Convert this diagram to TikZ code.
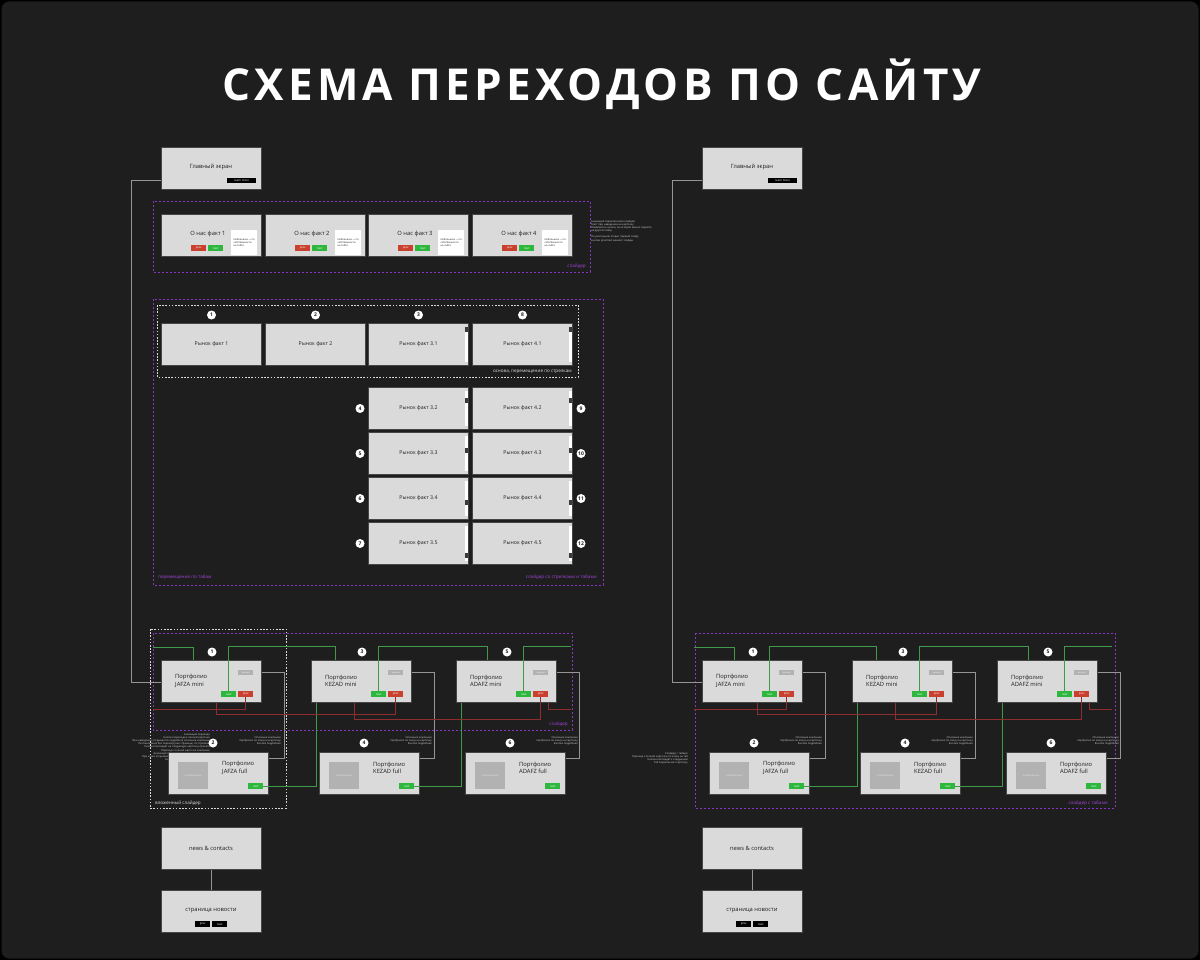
\documentclass[tikz,border=0pt]{standalone}
\usepackage{fontspec}
\setmainfont{Open Sans}
\newfontfamily\titlefont[LetterSpace=9.5]{Open Sans}
\usetikzlibrary{calc}
\definecolor{bg}{HTML}{1E1E1E}
\definecolor{cardfill}{HTML}{DADADA}
\definecolor{cardline}{HTML}{454545}
\definecolor{textdark}{HTML}{1E1E1E}
\definecolor{btngreen}{HTML}{2DB83D}
\definecolor{btnred}{HTML}{C9402F}
\definecolor{purp}{HTML}{8A36C0}
\definecolor{purptext}{HTML}{A545DC}
\definecolor{wirec}{HTML}{959595}
\definecolor{wiregreen}{HTML}{3F9A4A}
\definecolor{wirered}{HTML}{8E2E2E}
\definecolor{phgray}{HTML}{B2B2B2}
\definecolor{notegray}{HTML}{D2D2D2}
\definecolor{thumbc}{HTML}{3A3A3A}
\tikzset{
  card/.style={draw=cardline, fill=cardfill, line width=1pt, inner sep=0, minimum width=100pt, minimum height=42pt, anchor=north west},
  cardtitle/.style={font=\fontsize{5.8}{7.5}\selectfont, text=textdark, inner sep=0},
  btn/.style={inner sep=0, minimum width=15pt, minimum height=6pt, font=\fontsize{2.8}{3}\selectfont, text=white, anchor=north west},
  gbtn/.style={btn, fill=btngreen},
  rbtn/.style={btn, fill=btnred},
  kbtn/.style={btn, fill=black},
  num/.style={circle, fill=white, inner sep=0, minimum size=9pt, font=\fontsize{5}{5}\selectfont\bfseries, text=textdark},
  purpbox/.style={draw=purp, dash pattern=on 2pt off 2pt, line width=0.9pt},
  whitedash/.style={draw=white!85!black, dash pattern=on 1.6pt off 1.6pt, line width=1pt},
  purplabel/.style={text=purptext, font=\fontsize{4.6}{5}\selectfont, inner sep=0},
  whitelabel/.style={text=white!88!black, font=\fontsize{4.6}{5}\selectfont, inner sep=0},
  wire/.style={draw=wirec, line width=1pt},
  gwire/.style={draw=wiregreen, line width=0.8pt},
  rwire/.style={draw=wirered, line width=0.8pt},
  note/.style={text=notegray, font=\fontsize{2.6}{3.2}\selectfont, inner sep=0},
  descbox/.style={fill=white, inner sep=1.5pt, minimum width=26pt, minimum height=25pt, anchor=north west, text=textdark, font=\fontsize{2.5}{3.2}\selectfont, align=left},
  tag/.style={fill=phgray, inner sep=0, minimum width=15pt, minimum height=5pt, anchor=north west, font=\fontsize{2}{2}\selectfont, text=white},
  photo/.style={fill=phgray, inner sep=0, minimum width=30pt, minimum height=27pt, anchor=north west, font=\fontsize{2.5}{3}\selectfont, text=white!90!black},
}
\begin{document}
\begin{tikzpicture}[x=1pt,y=-1pt]
\useasboundingbox (0,0) rectangle (1200,960);
\fill[black] (0,0) rectangle (1200,960);
\fill[bg, rounded corners=8pt] (1.5,1.5) rectangle (1198.5,958.5);

% title
\node[font=\titlefont\bfseries\fontsize{44}{50}\selectfont, text=white, inner sep=0] (title) at (602,84) {СХЕМА ПЕРЕХОДОВ ПО САЙТУ};

% main screens and news
\foreach \s/\x in {L/161,R/702}{
  \node[card] (\s-main) at (\x,147) {};
  \node[cardtitle] (\s-maint) at ($(\s-main.north west)+(50,20)$) {Главный экран};
  \node[kbtn, minimum width=29pt, minimum height=5pt] (\s-learn) at ($(\s-main.north west)+(66,31)$) {learn more};
  \node[card] (\s-news) at (\x,827) {};
  \node[cardtitle] (\s-newst) at ($(\s-news.north west)+(50,21)$) {news \& contacts};
  \node[card] (\s-page) at (\x,890) {};
  \node[cardtitle] (\s-paget) at ($(\s-page.north west)+(50,21)$) {страница новости};
  \node[kbtn] (\s-pprev) at ($(\s-page.north west)+(34,31)$) {prev};
  \node[kbtn] (\s-pnext) at ($(\s-page.north west)+(51,31)$) {next};
  \draw[wire] (\s-news.south) -- (\s-page.north);
}

% ---- slider "О нас"
\draw[purpbox] (153,201) rectangle (590,272);
\node[purplabel, anchor=east] (lblslider1) at (586,266) {слайдер};
\foreach \i/\x in {1/161,2/265,3/368,4/472}{
  \node[card] (ab-\i) at (\x,214) {};
  \node[cardtitle] (ab-t\i) at ($(ab-\i.north west)+(47,20)$) {О нас факт \i};
  \node[rbtn] (ab-p\i) at ($(ab-\i.north west)+(30,31)$) {prev};
  \node[gbtn] (ab-n\i) at ($(ab-\i.north west)+(47,31)$) {next};
  \node[descbox] (ab-d\i) at ($(ab-\i.north west)+(70,16)$) {Небольшое — по\\собственности\\на сайте};
}
\node[note, anchor=north west, align=left] (sliderNote) at (591,220) {Анимация переключения слайдов\\Текст при наведении на карточку\\Появляется кнопка, по которой можно перейти\\на другой слайд\\[3pt]По умолчанию открыт первый слайд,\\кнопки prev/next меняют слайды};

% ---- market group
\draw[purpbox] (153,299) rectangle (603,585);
\draw[whitedash] (157,305) rectangle (578,377);
\node[whitelabel, anchor=east] (lblbase) at (572,372) {основа, перемещение по стрелкам};
\node[purplabel, anchor=west] (lbltabs) at (158,577) {перемещение по табам};
\node[purplabel, anchor=east] (lblarrows) at (597,577) {слайдер со стрелками и табами};

\foreach \i/\x/\n/\t in {1/161/1/1,2/265/2/2,3/368/3/3.1,4/472/8/4.1}{
  \node[card] (mk-\i) at (\x,323) {};
  \node[cardtitle, font=\fontsize{5.2}{6}\selectfont] (mk-t\i) at (mk-\i.center) {Рынок факт \t};
  \node[num] (mk-c\i) at ($(mk-\i.north)+(0,-8)$) {\n};
}
\foreach \k in {3,4}{
  \fill[white] ($(mk-\k.north east)+(-4,4)$) rectangle ($(mk-\k.south east)+(-1,-4)$);
  \fill[thumbc] ($(mk-\k.north east)+(-4,4)$) rectangle ++(3,5);
}
\foreach \r/\y/\off/\nl/\nr in {2/387/11/4/9,3/432/16/5/10,4/477/23/6/11,5/522/31/7/12}{
  \node[card] (mk-a\r) at (368,\y) {};
  \node[cardtitle, font=\fontsize{5.2}{6}\selectfont] (mk-at\r) at (mk-a\r.center) {Рынок факт 3.\r};
  \node[card] (mk-b\r) at (472,\y) {};
  \node[cardtitle, font=\fontsize{5.2}{6}\selectfont] (mk-bt\r) at (mk-b\r.center) {Рынок факт 4.\r};
  \node[num] (mk-na\r) at ($(mk-a\r.west)+(-8,0)$) {\nl};
  \node[num] (mk-nb\r) at ($(mk-b\r.east)+(8,0)$) {\nr};
  \foreach \c in {a,b}{
    \fill[white] ($(mk-\c\r.north east)+(-4,4)$) rectangle ($(mk-\c\r.south east)+(-1,-4)$);
    \fill[thumbc] ($(mk-\c\r.north east)+(-4,\off)$) rectangle ++(3,5);
  }
}

% ---- portfolio frames
\draw[whitedash] (150,629) rectangle (286,808);
\node[whitelabel, anchor=west] (lblnested) at (155,803) {вложенный слайдер};
\draw[purpbox] (153,633) rectangle (572,730);
\node[purplabel, anchor=east] (lblslider2) at (568,724) {слайдер};
\draw[purpbox] (695,633) rectangle (1115,808);
\node[purplabel, anchor=east] (lblslider3) at (1108,803) {слайдер с табами};

\node[note, anchor=north east, align=right] (leftNote) at (210,733) {Анимация перехода\\Кнопка перехода к полной карточке\\При наведении открывается подробное описание компании\\Листание вниз без перезагрузки страницы, по стрелкам\\Кнопка next ведёт на следующую карточку проекта\\Переход к полной карточке компании\\Анимация появления карточки при скролле\\При клике открывается карточка проекта, next и prev\\Кнопка next листает к следующему\\Полное описание проекта};
\node[note, anchor=north east, align=right] (rightNote) at (688,752) {Слайдер с табами\\Переход к полной карточке по клику на таб\\Кнопка next ведёт к следующей\\Таб переключает карточку};

% ---- portfolio sets
\foreach \s/\dx in {L/0,R/541}{
  \foreach \i/\mx/\fx/\nm in {1/161/168/JAFZA,2/311/319/KEZAD,3/456/465/ADAFZ}{
    \pgfmathtruncatemacro{\na}{2*\i-1}
    \pgfmathtruncatemacro{\nb}{2*\i}
    \node[card] (\s-m\i) at (\mx+\dx,660) {};
    \node[cardtitle, anchor=west, align=left] (\s-mt\i) at ($(\s-m\i.north west)+(14,21)$) {Портфолио\\\nm\ mini};
    \node[tag] (\s-tg\i) at ($(\s-m\i.north west)+(77,10)$) {логотип};
    \node[gbtn] (\s-nx\i) at ($(\s-m\i.north west)+(60,31)$) {next};
    \node[rbtn] (\s-pv\i) at ($(\s-m\i.north west)+(77,31)$) {prev};
    \node[num] (\s-ca\i) at ($(\s-m\i.north west)+(51,-8)$) {\na};
    \node[card] (\s-f\i) at (\fx+\dx,752) {};
    \node[photo] (\s-ph\i) at ($(\s-f\i.north west)+(10,10)$) {изображение};
    \node[cardtitle, anchor=west, align=left] (\s-ft\i) at ($(\s-f\i.north west)+(54,16)$) {Портфолио\\\nm\ full};
    \node[gbtn] (\s-fn\i) at ($(\s-f\i.north west)+(80,31)$) {next};
    \node[num] (\s-cb\i) at ($(\s-f\i.north west)+(45,-9)$) {\nb};
    \node[note, anchor=north east, align=right] (\s-fnote\i) at ($(\s-f\i.north east)+(12,-16)$) {Описание компании\\портфолио по клику на карточку\\Кнопка подробнее};
    \draw[wire] ($(\s-m\i.north east)+(0,12)$) -- ++(22,0) |- ($(\s-f\i.north east)+(0,6)$);
  }
  % main screen to first mini
  \draw[wire] ($(\s-main.north west)+(0,34)$) -- ++(-30,0) |- ($(\s-m1.north west)+(0,22)$);
  % next (green)
  \draw[gwire] (153+\dx,647) -| ($(\s-m1.north west)+(32,0)$);
  \draw[gwire] (\s-nx1.north) |- ($(\s-m2.north west)+(24,-14)$) -- ++(0,14);
  \draw[gwire] (\s-nx2.north) |- ($(\s-m3.north west)+(31,-14)$) -- ++(0,14);
  \draw[gwire] (\s-nx3.north) |- (571+\dx,646);
  \draw[gwire] (\s-fn1.east) -| ($(\s-m2.south west)+(5,0)$);
  \draw[gwire] (\s-fn2.east) -| ($(\s-m3.south west)+(5,0)$);
  % prev (red)
  \draw[rwire] (\s-pv1.south) |- (153+\dx,709);
  \draw[rwire] (\s-pv2.south) |- ($(\s-m1.south west)+(55,11)$) -- ++(0,-11);
  \draw[rwire] (\s-pv3.south) |- ($(\s-m2.south west)+(43,16)$) -- ++(0,-16);
  \draw[rwire] ($(\s-m3.south west)+(92,0)$) |- (571+\dx,709);
}
\end{tikzpicture}
\end{document}
